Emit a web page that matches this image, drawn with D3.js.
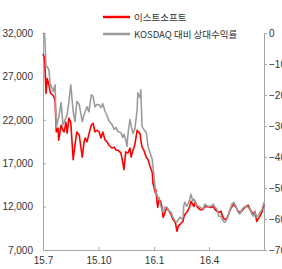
<!DOCTYPE html>
<html>
<head>
<meta charset="utf-8">
<script src="https://cdn.jsdelivr.net/npm/d3@7"></script>
<style>
  body { margin: 0; background: #fff; }
  svg text { font-family: "Liberation Sans Narrow", "Arial Narrow", "Liberation Sans", sans-serif; fill: #333; }
  .legend text { font-family: "Noto Sans CJK KR", "Liberation Sans", sans-serif; }
</style>
</head>
<body>
<svg id="chart" width="282" height="269"></svg>
<script>
// series names
var seriesNames = ["이스트소프트", "KOSDAQ 대비 상대수익률"]

// dates
var dates = [
  "2015-07-01","2015-07-03","2015-07-04","2015-07-06","2015-07-08","2015-07-11","2015-07-13","2015-07-14",
  "2015-07-18","2015-07-21","2015-07-23","2015-07-26","2015-07-27","2015-07-31","2015-08-03","2015-08-05",
  "2015-08-08","2015-08-10","2015-08-13","2015-08-16","2015-08-20","2015-08-23","2015-08-26","2015-08-30",
  "2015-09-04","2015-09-07","2015-09-09","2015-09-12","2015-09-15","2015-09-19","2015-09-22","2015-09-25",
  "2015-09-28","2015-10-02","2015-10-05","2015-10-08","2015-10-12","2015-10-15","2015-10-18","2015-10-23",
  "2015-10-27","2015-10-30","2015-11-02","2015-11-07","2015-11-10","2015-11-12","2015-11-15","2015-11-17",
  "2015-11-19","2015-11-22","2015-11-24","2015-11-27","2015-11-30","2015-12-04","2015-12-05","2015-12-09",
  "2015-12-10","2015-12-12","2015-12-15","2015-12-19","2015-12-22","2015-12-25","2015-12-29","2015-12-30",
  "2016-01-03","2016-01-04","2016-01-06","2016-01-07","2016-01-09","2016-01-12","2016-01-14","2016-01-16",
  "2016-01-19","2016-01-22","2016-01-26","2016-01-29","2016-02-01","2016-02-05","2016-02-08","2016-02-10",
  "2016-02-13","2016-02-16","2016-02-18","2016-02-19","2016-02-21","2016-02-24","2016-02-26","2016-02-29",
  "2016-03-02","2016-03-05","2016-03-07","2016-03-09","2016-03-12","2016-03-17","2016-03-22","2016-03-25",
  "2016-03-30","2016-04-04","2016-04-08","2016-04-11","2016-04-14","2016-04-17","2016-04-21","2016-04-22",
  "2016-04-26","2016-04-29","2016-05-02","2016-05-06","2016-05-09","2016-05-12","2016-05-16","2016-05-19",
  "2016-05-22","2016-05-26","2016-05-29","2016-06-01","2016-06-05","2016-06-08","2016-06-11","2016-06-14",
  "2016-06-16","2016-06-19","2016-06-21","2016-06-24","2016-06-28","2016-07-01"
]

// 이스트소프트 price (won), left axis
var price = [
  29600,29250,28800,25050,26750,25950,25150,25050,
  24800,24250,20600,21050,19650,21400,20800,20600,
  21700,20450,22200,21700,17400,19100,20600,20250,
  17700,19450,19900,19450,20350,21400,21600,20600,
  20800,20600,19900,20600,19650,19450,19100,18750,
  18850,18500,18500,18200,17150,16250,18300,18200,
  18200,18750,17700,18500,19100,20800,20700,20350,
  19650,18850,18500,17700,17400,16700,15900,14750,
  13600,13950,12450,11900,12800,12600,11900,10750,
  11350,11900,11450,11100,10550,10200,9150,9750,
  9950,10200,10300,10750,11100,11350,11550,12000,
  12600,12250,12000,12600,12000,11650,11650,12000,
  12000,11900,12000,11650,11450,11350,11450,11100,
  10550,10550,10850,11650,12000,12250,11900,11450,
  11350,11550,11800,12000,12150,11650,11350,11100,
  11450,10300,10550,10850,11450,12250
]

// KOSDAQ relative return (%), right axis
var relReturn = [
  0,-0.3,-1.6,-10.9,-10.9,-11.9,-17.3,-16.7,
  -18.9,-16.7,-30.5,-27.9,-27.3,-22.5,-29.5,-28.9,
  -27.3,-26.3,-22.1,-16.7,-25.4,-28.6,-22.1,-23.1,
  -28.6,-26.3,-25.4,-23.8,-25.4,-19.9,-20.5,-23.8,
  -23.1,-23.1,-24.1,-22.8,-25.4,-26.6,-28.2,-29.5,
  -31.1,-30.5,-31.8,-32.1,-33.7,-32.7,-34.3,-36.6,
  -32.1,-27.9,-29.9,-32.4,-31.1,-24.7,-19.3,-20.9,
  -18.3,-30.2,-31.1,-32.1,-36.6,-38.5,-40.8,-43.0,
  -50.4,-51.4,-52.3,-53.0,-53.0,-55.9,-56.8,-57.8,
  -56.2,-56.2,-57.5,-57.8,-59.4,-60.7,-61.0,-60.3,
  -59.4,-60.0,-59.4,-55.9,-54.6,-55.9,-55.2,-53.6,
  -52.0,-54.2,-53.6,-54.6,-55.5,-56.2,-56.8,-55.2,
  -55.9,-55.9,-55.2,-56.2,-56.8,-59.1,-59.1,-60.0,
  -61.0,-60.7,-59.4,-56.8,-55.2,-54.6,-56.2,-57.8,
  -58.4,-56.8,-56.2,-55.9,-56.2,-57.1,-58.4,-59.1,
  -57.8,-59.4,-59.1,-58.1,-56.8,-54.6
]

var leftTicks = [7000, 12000, 17000, 22000, 27000, 32000]
var rightTicks = [0, -10, -20, -30, -40, -50, -60, -70]
var xTickDates = ["2015-07-01", "2015-10-01", "2016-01-01", "2016-04-01"]
var xTickLabels = ["15.7", "15.10", "16.1", "16.4"]

var colors = { price: "#ff0000", rel: "#9b9b9b" }

var svg = d3.select("#chart")
var margin = {top: 33, right: 18, bottom: 19, left: 43},
    width = 282 - margin.left - margin.right,
    height = 269 - margin.top - margin.bottom

var parse = d3.timeParse("%Y-%m-%d")
var data = dates.map(function(d, i){
    return {date: parse(d), price: price[i], rel: relReturn[i]}
})

var x = d3.scaleTime()
    .domain([parse("2015-07-01"), parse("2016-07-01")])
    .range([0, width])
var yL = d3.scaleLinear().domain([7000, 32000]).range([height, 0])
var yR = d3.scaleLinear().domain([-70, 0]).range([height, 0])

var g = svg.append("g").attr("transform", "translate(" + margin.left + "," + margin.top + ")")

function styleAxis(sel){
    sel.selectAll("path, line").attr("stroke", "#a6a6a6")
    sel.selectAll("text").attr("font-size", "10px").attr("fill", "#333")
    sel.select(".domain").attr("stroke-width", 1)
}

var fmt = d3.format(",")
var leftAxis = g.append("g")
    .call(d3.axisLeft(yL).tickValues(leftTicks).tickFormat(fmt).tickSizeInner(-3).tickSizeOuter(0).tickPadding(10))
styleAxis(leftAxis)

var rightAxis = g.append("g")
    .attr("transform", "translate(" + width + ",0)")
    .call(d3.axisRight(yR).tickValues(rightTicks).tickSizeInner(3).tickSizeOuter(0).tickPadding(2))
styleAxis(rightAxis)

var bottomAxis = g.append("g")
    .attr("transform", "translate(0," + height + ")")
    .call(d3.axisBottom(x).tickValues(xTickDates.map(parse))
        .tickFormat(function(d, i){ return xTickLabels[i] })
        .tickSizeInner(-3).tickSizeOuter(0).tickPadding(7))
styleAxis(bottomAxis)

var priceLine = d3.line()
    .x(function(d){ return x(d.date) })
    .y(function(d){ return yL(d.price) })
var relLine = d3.line()
    .x(function(d){ return x(d.date) })
    .y(function(d){ return yR(d.rel) })

g.append("path")
    .datum(data)
    .attr("fill", "none")
    .attr("stroke", colors.price)
    .attr("stroke-width", 1.6)
    .attr("stroke-linejoin", "round")
    .attr("d", priceLine)

g.append("path")
    .datum(data)
    .attr("fill", "none")
    .attr("stroke", colors.rel)
    .attr("stroke-width", 1.6)
    .attr("stroke-linejoin", "round")
    .attr("d", relLine)

// legend
var legend = svg.append("g").attr("class", "legend")
var legendItems = [
    {name: seriesNames[0], color: colors.price, y: 17},
    {name: seriesNames[1], color: colors.rel, y: 34}
]
legendItems.forEach(function(it){
    legend.append("line")
        .attr("x1", 103).attr("x2", 130)
        .attr("y1", it.y).attr("y2", it.y)
        .attr("stroke", it.color).attr("stroke-width", 2.5)
    legend.append("text")
        .attr("x", 134).attr("y", it.y + 3.5)
        .attr("font-size", "9.5px")
        .attr("fill", "#333")
        .text(it.name)
})
</script>
</body>
</html>
